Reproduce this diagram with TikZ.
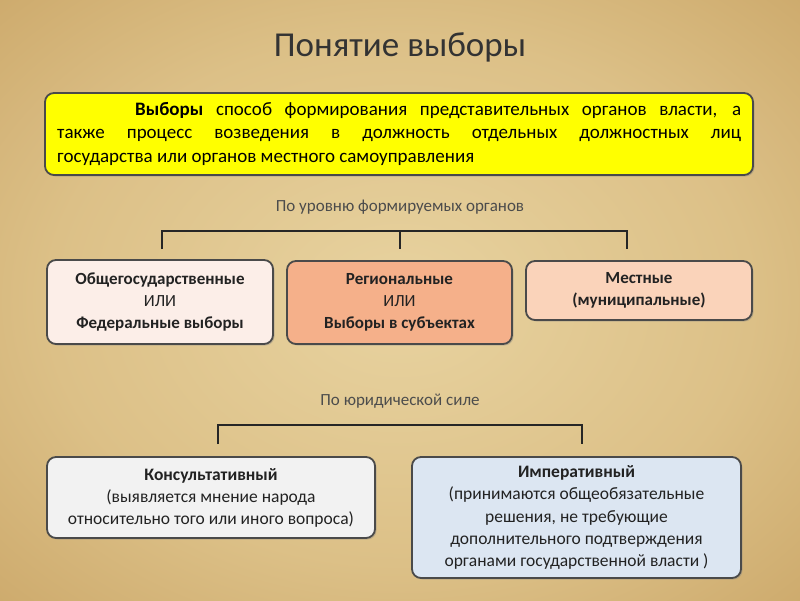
\documentclass[tikz,border=0pt]{standalone}
\usepackage{fontspec}
\setmainfont{Carlito}
\usetikzlibrary{shadows}
\definecolor{bgA}{HTML}{E8D3A0}
\definecolor{bgB}{HTML}{DCC087}
\definecolor{bgC}{HTML}{C9A465}
\definecolor{bgD}{HTML}{B08550}
\definecolor{txt}{HTML}{222222}
\definecolor{bord}{HTML}{4A4A4A}
\definecolor{yel}{HTML}{FFFF00}
\definecolor{pinkA}{HTML}{FCEEE8}
\definecolor{salmon}{HTML}{F5B08A}
\definecolor{peach}{HTML}{FAD3BA}
\definecolor{grayA}{HTML}{F2F2F2}
\definecolor{blueA}{HTML}{DCE6F2}
\pgfdeclareradialshading{parch}{\pgfpoint{0bp}{0bp}}{color(0bp)=(bgA); color(22bp)=(bgB); color(40bp)=(bgC); color(50bp)=(bgD)}
\tikzset{
  box/.style={draw=bord, line width=1.8pt, rounded corners=9pt,
    drop shadow={shadow xshift=1.5pt, shadow yshift=-1.5pt, opacity=0.35},
    text=txt, font=\fontsize{17}{22}\selectfont, align=center, inner sep=0pt},
  captext/.style={text=black!70, font=\fontsize{17}{19}\selectfont},
  brk/.style={draw=black!85, line width=1.4pt}
}
\begin{document}
\begin{tikzpicture}[x=1pt,y=-1pt]
\useasboundingbox (0,0) rectangle (800,600);
\shade[shading=parch] (0,0) rectangle (800,600);
% title
\node[text=black!80, font=\fontsize{35}{40}\selectfont] (title) at (400,47) {Понятие выборы};
% yellow definition box
\node[box, fill=yel, minimum width=708pt, minimum height=82pt] (def) at (399,134) {};
\node[text=black, text width=684pt, align=justify, inner sep=0pt,
  font=\fontsize{19}{23.5}\selectfont, anchor=north west] (deftext) at (57,102)
  {\tolerance=10000\hyphenpenalty=10000\hbadness=10000\hspace*{78pt}\textbf{Выборы} способ формирования представительных органов власти, а\linebreak
  также процесс возведения в должность отдельных должностных лиц\linebreak
  государства или органов местного самоуправления};
% first caption and bracket
\node[captext] (c1) at (400,207) {По уровню формируемых органов};
\coordinate (b1l) at (162,249);
\coordinate (b1m) at (400,249);
\coordinate (b1r) at (627,249);
\draw[brk] (b1l) -- (162,231) -- (627,231) -- (b1r);
\draw[brk] (400,231) -- (b1m);
% row 1
\node[box, fill=pinkA, minimum width=226pt, minimum height=84pt] (fed) at (160,302)
  {\textbf{Общегосударственные}\\ИЛИ\\\textbf{Федеральные выборы}};
\node[box, fill=salmon, minimum width=225pt, minimum height=83pt] (reg) at (399.5,302.5)
  {\textbf{Региональные}\\ИЛИ\\\textbf{Выборы в субъектах}};
\node[box, fill=peach, minimum width=226pt, minimum height=59pt] (loc) at (639,290.5)
  {\textbf{Местные}\\\textbf{(муниципальные)}};
% second caption and bracket
\node[captext] (c2) at (400,401) {По юридической силе};
\coordinate (b2l) at (218,444);
\coordinate (b2r) at (582,444);
\draw[brk] (b2l) -- (218,425) -- (582,425) -- (b2r);
% row 2
\node[box, fill=grayA, minimum width=328pt, minimum height=81pt, font=\fontsize{17.5}{22}\selectfont] (kons) at (211,497.5)
  {\textbf{Консультативный}\\(выявляется мнение народа\\относительно того или иного вопроса)};
\node[box, fill=blueA, minimum width=329pt, minimum height=121pt, font=\fontsize{17.5}{22.3}\selectfont] (imp) at (576.5,517.5)
  {\textbf{Императивный}\\(принимаются общеобязательные\\решения, не требующие\\дополнительного подтверждения\\органами государственной власти )};
\end{tikzpicture}
\end{document}
